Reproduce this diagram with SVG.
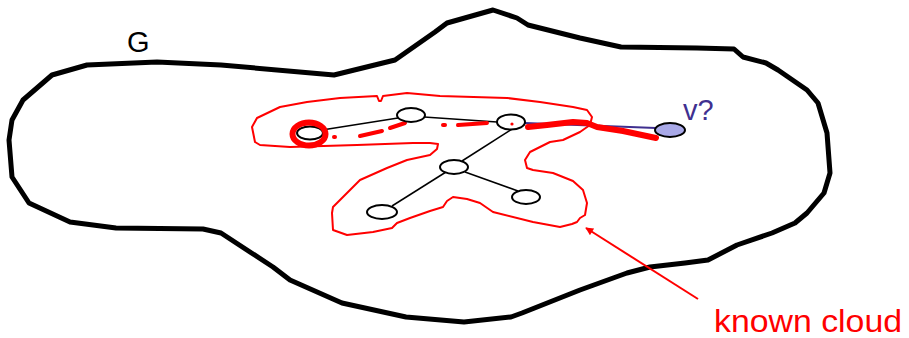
<svg xmlns="http://www.w3.org/2000/svg" width="909" height="338" viewBox="0 0 909 338">
<defs>
<style>
.outline{fill:none;stroke:#000;stroke-width:5;stroke-linejoin:round;stroke-linecap:round}
.cloud{fill:none;stroke:#ff0000;stroke-width:2;stroke-linejoin:round}
.node{fill:#fff;stroke:#000;stroke-width:2}
.edge{stroke:#000;stroke-width:1.5;fill:none}
.lbl{font-family:"Liberation Sans","Open Sans",sans-serif}
</style>
<marker id="ah" viewBox="0 0 10 10" refX="9" refY="5" markerWidth="9" markerHeight="8" orient="auto" markerUnits="userSpaceOnUse">
<path d="M0,0 L10,5 L0,10 Z" fill="#ff0000"/>
</marker>
</defs>
<rect width="909" height="338" fill="#fff"/>
<g id="graph-G">
<path class="outline" d="M52,75 L87,65 L157,62 L221,65 L334,75 L395,60 L435,32 L447,23 L493,10 L517,18 L528,25 L580,38 L621,47 L697,48 L734,49 L743,57 L766,63 L778,70 L807,90 L818,103 L827,133 L830,173 L824,193 L807,213 L795,223 L772,233 L737,245 L708,260 L685,263 L650,267 L627,273 L580,290 L522,313 L511,317 L464,322 L406,317 L342,303 L290,280 L273,267 L221,233 L203,229 L116,228 L70,222 L29,203 L12,177 L9,140 L12,120 L23,100 Z"/>
<text class="lbl" x="127" y="52" font-size="29" fill="#000">G</text>
</g>
<g id="known-cloud">
<path class="cloud" d="M252,127 L257,118 L280,107 L307,102 L340,98 L377,96 L379,101 L381,101 L383,96 L407,93 L440,96 L507,98 L540,102 L573,107 L587,110 L592,117 L590,125 L580,132 L563,140 L550,142 L540,147 L530,152 L525,160 L527,168 L533,170 L553,173 L573,181 L583,190 L587,203 L585,215 L580,218 L577,222 L572,224 L560,227 L533,222 L493,212 L480,203 L467,199 L453,197 L447,201 L443,207 L430,211 L410,218 L397,223 L392,228 L373,232 L347,235 L333,230 L332,213 L333,207 L343,197 L360,180 L387,168 L407,160 L430,155 L437,149 L438,144 L430,143 L413,143 L357,145 L290,147 L260,145 L255,142 Z"/>
</g>
<g id="connectors">
<line class="edge" x1="322" y1="130" x2="398" y2="118"/>
<line class="edge" x1="424" y1="117" x2="497" y2="122"/>
<line class="edge" x1="512" y1="129" x2="462" y2="161"/>
<line class="edge" x1="446" y1="172" x2="392" y2="206"/>
<line class="edge" x1="465" y1="172" x2="518" y2="191"/>
<line x1="525" y1="123" x2="656" y2="128" stroke="#3f2f8f" stroke-width="2"/>
<path d="M528,127 L547,125 L573,122 L587,123 L597,127 L623,131 L656,138" fill="none" stroke="#ff0000" stroke-width="6" stroke-linecap="round" stroke-linejoin="round"/>
<g stroke="#ff0000" stroke-width="4" stroke-linecap="round" fill="none">
<line x1="334" y1="137" x2="335" y2="137"/>
<line x1="360" y1="136" x2="382" y2="131"/>
<line x1="390" y1="128" x2="405" y2="123"/>
<line x1="443" y1="125" x2="445" y2="125"/>
<line x1="458" y1="125" x2="487" y2="123"/>
</g>
<line x1="698" y1="299" x2="586" y2="228" stroke="#ff0000" stroke-width="2" marker-end="url(#ah)"/>
</g>
<g id="node-a">
<ellipse class="node" cx="310" cy="133" rx="13" ry="6.5"/>
<ellipse cx="309" cy="134" rx="16.5" ry="11.5" fill="none" stroke="#ff0000" stroke-width="6"/>
</g>
<g id="node-b"><ellipse class="node" cx="411" cy="115" rx="14" ry="7"/></g>
<g id="node-c"><ellipse class="node" cx="511" cy="122" rx="14" ry="7.5"/><circle cx="512" cy="124" r="1.6" fill="#ff0000"/></g>
<g id="node-d"><ellipse class="node" cx="454" cy="167" rx="14" ry="7"/></g>
<g id="node-e"><ellipse class="node" cx="382" cy="212" rx="15" ry="7"/></g>
<g id="node-f"><ellipse class="node" cx="526" cy="197" rx="14" ry="7"/></g>
<g id="node-v">
<ellipse cx="670" cy="130" rx="15" ry="7" fill="#a9a9e8" stroke="#000" stroke-width="2"/>
<text class="lbl" x="683" y="120" font-size="29" fill="#403090">v?</text>
</g>
<g id="label-known-cloud">
<text class="lbl" x="714" y="332" font-size="32" fill="#ff0000" textLength="188" lengthAdjust="spacingAndGlyphs">known cloud</text>
</g>
</svg>
